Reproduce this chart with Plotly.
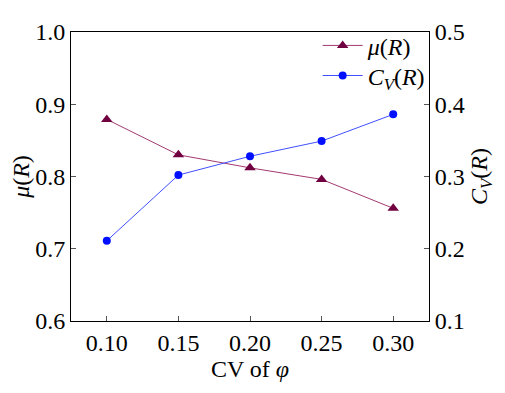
import plotly.graph_objects as go

cv_phi = [0.10, 0.15, 0.20, 0.25, 0.30]
mu_R = [0.879, 0.830, 0.812, 0.796, 0.756]
cv_R = [0.211, 0.302, 0.328, 0.349, 0.386]
x_ticks = [0.10, 0.15, 0.20, 0.25, 0.30]
x_tick_labels = ["0.10", "0.15", "0.20", "0.25", "0.30"]
y1_ticks = [0.6, 0.7, 0.8, 0.9, 1.0]
y2_ticks = [0.1, 0.2, 0.3, 0.4, 0.5]

font_family = "Liberation Serif"
tfont = dict(family=font_family, size=24, color="black")

fig = go.Figure()
fig.add_trace(go.Scatter(
    x=cv_phi, y=mu_R, name="<i>μ</i>(<i>R</i>)", mode="lines+markers",
    line=dict(color="#a33a70", width=1),
    marker=dict(symbol="triangle-up", size=10, color="#700040"),
    yaxis="y", legend="legend"))
fig.add_trace(go.Scatter(
    x=cv_phi, y=cv_R, name="<i>C<sub>V</sub></i>(<i>R</i>)", mode="lines+markers",
    line=dict(color="#4050ff", width=1),
    marker=dict(symbol="circle", size=8, color="#0010ff"),
    yaxis="y2", legend="legend2"))

leg_common = dict(xanchor="left", yanchor="top", bgcolor="rgba(0,0,0,0)",
                  font=dict(family=font_family, size=24), itemwidth=40)

fig.update_layout(
    width=497, height=385,
    margin=dict(l=63, r=76, t=24, b=72, autoexpand=False),
    paper_bgcolor="white", plot_bgcolor="white",
    font=dict(family=font_family, size=24, color="black"),
    showlegend=True,
    legend=dict(x=0.689, y=1.03, **leg_common),
    legend2=dict(x=0.689, y=0.926, **leg_common),
    xaxis=dict(range=[0.075, 0.325], tickvals=x_ticks, ticktext=x_tick_labels,
               tickfont=tfont, automargin=False,
               showline=True, linecolor="black", linewidth=1, mirror=True,
               ticks="inside", ticklen=5, tickcolor="#555", showgrid=False,
               zeroline=False,
               title=dict(text="CV of <i>φ</i>", standoff=0, font=tfont)),
    yaxis=dict(range=[0.6, 1.0], tickvals=y1_ticks, tickformat=".1f",
               tickfont=tfont, automargin=False,
               showline=True, linecolor="black", linewidth=1,
               ticks="inside", ticklen=5, tickcolor="#555", showgrid=False,
               zeroline=False,
               title=dict(text="<i>μ</i>(<i>R</i>)", standoff=0, font=tfont)),
    yaxis2=dict(range=[0.1, 0.5], tickvals=y2_ticks, tickformat=".1f",
                tickfont=tfont, automargin=False,
                overlaying="y", side="right",
                showline=True, linecolor="black", linewidth=1,
                ticks="inside", ticklen=5, tickcolor="#555", showgrid=False,
                zeroline=False,
                title=dict(text="<i>C<sub>V</sub></i>(<i>R</i>)", standoff=6, font=tfont)),
)

fig.write_html("out.html")
